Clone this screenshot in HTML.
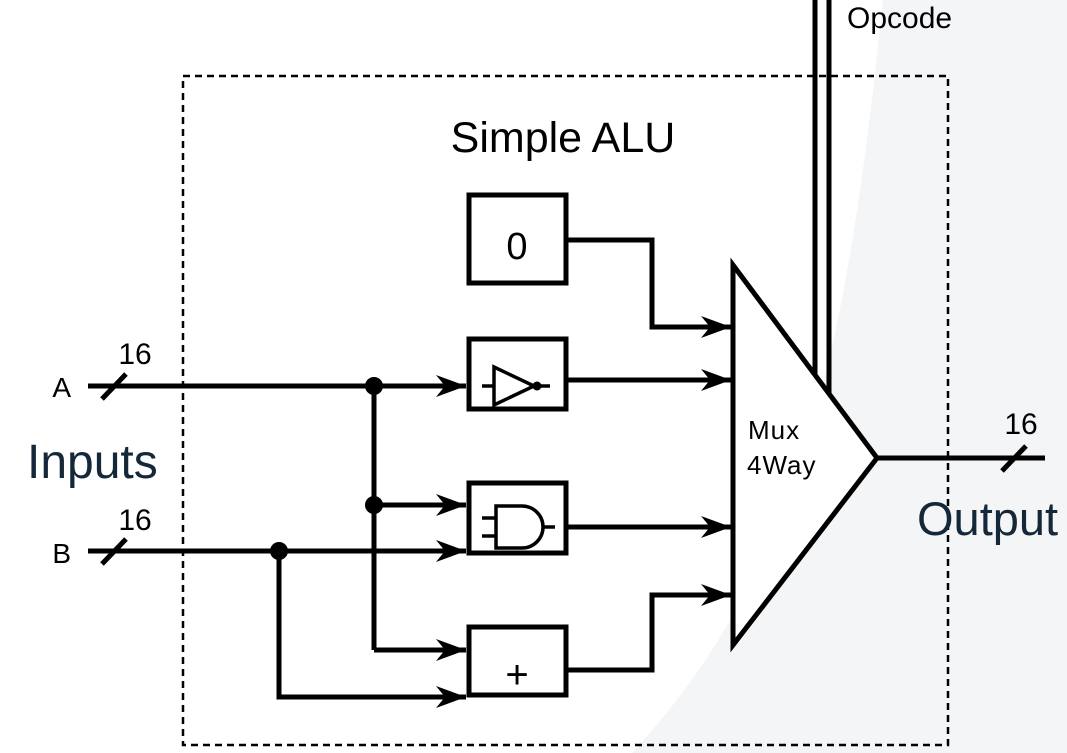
<!DOCTYPE html>
<html><head><meta charset="utf-8"><style>
html,body{margin:0;padding:0;background:#fff;}
svg{display:block;}
text{font-family:"Liberation Sans",Arial,sans-serif;}
</style></head><body>
<svg width="1067" height="753" viewBox="0 0 1067 753" xmlns="http://www.w3.org/2000/svg">
<defs>
<marker id="ar" markerWidth="32" markerHeight="22" refX="30" refY="11" orient="auto" markerUnits="userSpaceOnUse">
<path d="M0,0 L30,11 L0,22 L9,11 Z" fill="#000"/>
</marker>
</defs>
<path d="M883 0 C 848 330, 810 560, 632 753 L1067 753 L1067 0 Z" fill="#f4f5f7"/>
<rect x="183" y="76" width="765" height="669" fill="none" stroke="#000" stroke-width="2.5" stroke-dasharray="7,5"/>
<text x="563" y="152" font-size="43" text-anchor="middle">Simple ALU</text>
<text x="847" y="28" font-size="30">Opcode</text>
<line x1="815" y1="0" x2="815" y2="376" stroke="#000" stroke-width="5"/>
<line x1="829" y1="0" x2="829" y2="395" stroke="#000" stroke-width="5"/>
<path d="M733 265 L877 458 L733 645 Z" fill="#fff" stroke="#000" stroke-width="5"/>
<text x="748" y="439" font-size="26" letter-spacing="1">Mux</text>
<text x="747" y="474" font-size="26" letter-spacing="1">4Way</text>
<g fill="#fff" stroke="#000" stroke-width="5">
<rect x="469" y="195" width="97" height="88"/>
<rect x="469" y="339" width="97" height="70"/>
<rect x="469" y="483" width="97" height="70"/>
<rect x="469" y="627" width="97" height="68"/>
</g>
<text x="517" y="259" font-size="38" text-anchor="middle">0</text>
<text x="517" y="688" font-size="40" text-anchor="middle">+</text>
<g fill="none" stroke="#000" stroke-width="3.5">
<line x1="482" y1="386" x2="494" y2="386"/>
<path d="M494 367 L534 386 L494 405 Z"/>
<line x1="538" y1="386" x2="550" y2="386"/>
</g>
<circle cx="537" cy="386" r="4.5" fill="#000"/>
<g fill="none" stroke="#000" stroke-width="3.5">
<path d="M496 506 L522 506 A21 21 0 0 1 522 548 L496 548 Z"/>
<line x1="482" y1="518" x2="496" y2="518"/>
<line x1="482" y1="536" x2="496" y2="536"/>
<line x1="543" y1="527" x2="555" y2="527"/>
</g>
<g fill="none" stroke="#000" stroke-width="5">
<line x1="88" y1="386" x2="466" y2="386" marker-end="url(#ar)"/>
<line x1="88" y1="551" x2="466" y2="551" marker-end="url(#ar)"/>
<line x1="374" y1="386" x2="374" y2="650"/>
<line x1="374" y1="505" x2="466" y2="505" marker-end="url(#ar)"/>
<polyline points="374,650 466,650" marker-end="url(#ar)"/>
<polyline points="279,551 279,697 466,697" marker-end="url(#ar)"/>
<polyline points="566,240 652,240 652,327 731,327" marker-end="url(#ar)"/>
<line x1="566" y1="380" x2="731" y2="380" marker-end="url(#ar)"/>
<line x1="566" y1="527" x2="731" y2="527" marker-end="url(#ar)"/>
<polyline points="566,670 652,670 652,595 731,595" marker-end="url(#ar)"/>
<line x1="877" y1="458" x2="1045" y2="458"/>
<line x1="102" y1="399" x2="126" y2="374"/>
<line x1="102" y1="564" x2="126" y2="539"/>
<line x1="1002" y1="471" x2="1026" y2="446"/>
</g>
<g fill="#000">
<circle cx="374" cy="386" r="9"/>
<circle cx="374" cy="505" r="9"/>
<circle cx="279" cy="551" r="9"/>
</g>
<text x="71" y="397" font-size="28" text-anchor="end">A</text>
<text x="71" y="563" font-size="28" text-anchor="end">B</text>
<text x="135" y="364" font-size="30" text-anchor="middle">16</text>
<text x="135" y="530" font-size="30" text-anchor="middle">16</text>
<text x="1021" y="434" font-size="30" text-anchor="middle">16</text>
<text x="27" y="478" font-size="48" fill="#14283a">Inputs</text>
<text x="917" y="535" font-size="47" fill="#14283a">Output</text>
</svg>
</body></html>
